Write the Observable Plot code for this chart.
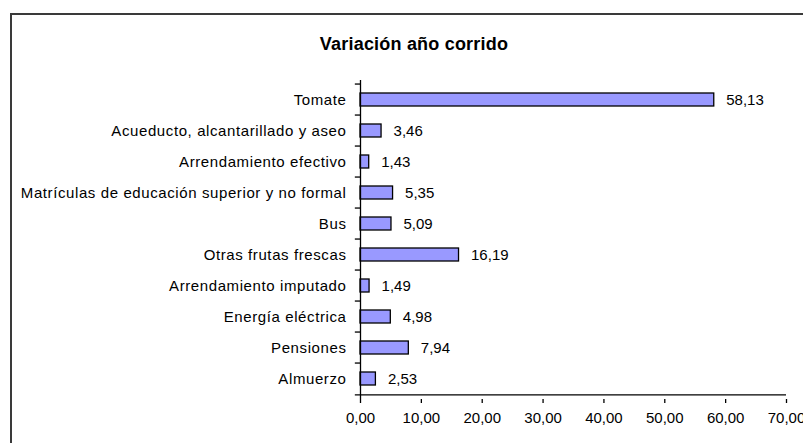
<!DOCTYPE html>
<html>
<head>
<meta charset="utf-8">
<script src="https://cdn.jsdelivr.net/npm/d3@7"></script>
<script src="https://cdn.jsdelivr.net/npm/@observablehq/plot@0.6"></script>
<style>
  html, body { margin: 0; padding: 0; background: #fff; overflow: hidden; }
  #wrap { position: relative; width: 803px; height: 443px; overflow: hidden; }
  #frame { position: absolute; left: 10px; top: 13px; width: 900px; height: 600px; border: 2px solid #3a3a3a; box-sizing: border-box; }
  #title { position: absolute; left: 0; width: 828px; top: 34px; text-align: center; font: bold 18px "Liberation Sans", Arial, sans-serif; letter-spacing: 0.2px; color: #000; }
  #chart { position: absolute; left: 0; top: 0; }
  #chart svg { display: block; }
  #chart g[aria-label="y-axis tick label"] text { letter-spacing: 0.6px; }
</style>
</head>
<body>
<div id="wrap">
  <div id="frame"></div>
  <div id="title">Variación año corrido</div>
  <div id="chart"></div>
</div>
<script>
const categories = ["Tomate", "Acueducto, alcantarillado y aseo", "Arrendamiento efectivo", "Matrículas de educación superior y no formal", "Bus", "Otras frutas frescas", "Arrendamiento imputado", "Energía eléctrica", "Pensiones", "Almuerzo"];
const values = [58.13, 3.46, 1.43, 5.35, 5.09, 16.19, 1.49, 4.98, 7.94, 2.53];
const xTicks = [0, 10, 20, 30, 40, 50, 60, 70];

const data = categories.map((c, i) => ({category: c, value: values[i]}));
const fmt = v => d3.format(".2f")(v).replace(".", ",");

const H = 443, MT = 80, MB = 44;
const step = (H - MT - MB) / categories.length;

const chart = Plot.plot({
  width: 803,
  height: H,
  marginLeft: 360,
  marginRight: 17,
  marginTop: MT,
  marginBottom: MB,
  style: {fontFamily: '"Liberation Sans", Arial, sans-serif', fontSize: "15px", background: "transparent", color: "#000", overflow: "visible"},
  x: {domain: [0, 70]},
  y: {domain: categories, paddingInner: 0.58, paddingOuter: 0.29},
  marks: [
    Plot.barX(data, {y: "category", x: "value", fill: "#9999FF", stroke: "#000", strokeWidth: 1.3}),
    Plot.text(data, {y: "category", x: "value", text: d => fmt(d.value), textAnchor: "start", dx: 12, fontSize: 15, fill: "#000"}),
    Plot.ruleX([0], {stroke: "#000", strokeWidth: 1.3}),
    Plot.ruleY(categories, {y: d => d, x1: -0.85, x2: 0, dy: -step / 2, stroke: "#000", strokeWidth: 1.3}),
    Plot.ruleY(categories.slice(-1), {y: d => d, x1: -0.85, x2: 70, dy: step / 2, stroke: "#000", strokeWidth: 1.3}),
    Plot.axisY({tickSize: 0, tickPadding: 14, label: null, fontSize: 15}),
    Plot.axisX({ticks: xTicks, tickSize: 4, tickPadding: 9, tickFormat: fmt, label: null, fontSize: 15, strokeWidth: 1.3})
  ]
});
document.getElementById("chart").appendChild(chart);
</script>
</body>
</html>
